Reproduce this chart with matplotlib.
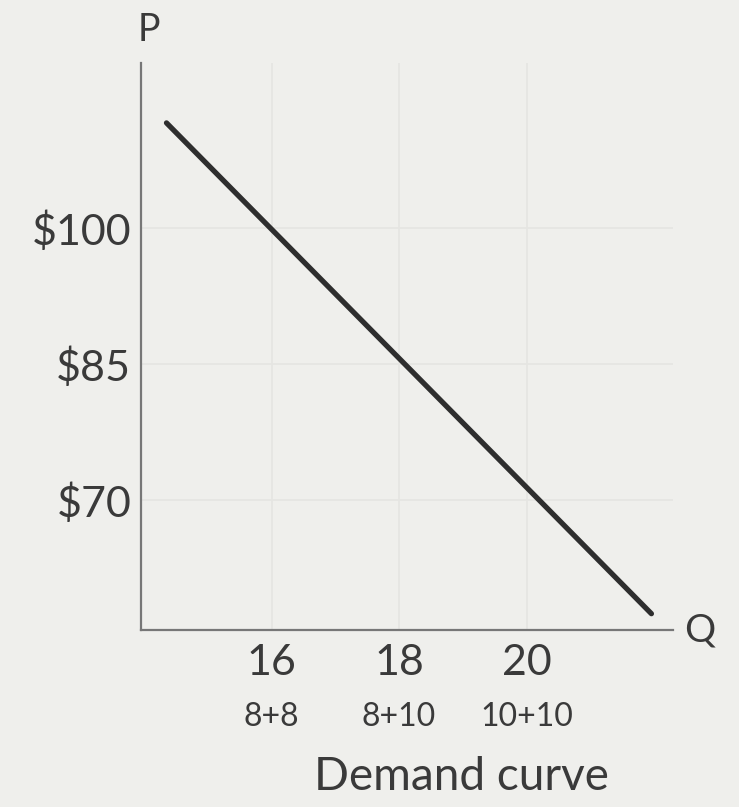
import numpy as np
import matplotlib.pyplot as plt

# demand curve end points
demand_q = [14.35, 21.96]
demand_p = [111.6, 57.5]

q_ticks = [16, 18, 20]
q_labels = ["16", "18", "20"]
q_sublabels = ["8+8", "8+10", "10+10"]
p_ticks = [70, 85, 100]
p_labels = ["$70", "$85", "$100"]

plt.rcParams['font.family'] = ['Lato', 'DejaVu Sans']
ink = '#3a3a3a'
bg = '#efefec'

fig = plt.figure(figsize=(7.39, 8.07), dpi=100, facecolor=bg)
ax = fig.add_axes([0.1908, 0.2193, 0.72, 0.7026], facecolor=bg)

ax.plot(demand_q, demand_p, color='#2e2e2e', lw=3.8, solid_capstyle='round')

ax.set_xlim(13.95, 22.3)
ax.set_ylim(55.7, 118.2)

# faint grid from the paper
for q in q_ticks:
    ax.axvline(q, color='#e5e5e2', lw=1.2, zorder=0)
for p in p_ticks:
    ax.axhline(p, color='#e5e5e2', lw=1.2, zorder=0)

for s in ['top', 'right']:
    ax.spines[s].set_visible(False)
for s in ['left', 'bottom']:
    ax.spines[s].set_color('#777777')
    ax.spines[s].set_linewidth(1.6)

ax.set_xticks(q_ticks, q_labels)
ax.set_yticks(p_ticks, p_labels)
ax.tick_params(axis='both', length=0, colors=ink, labelsize=31)
ax.tick_params(axis='x', pad=10)
ax.tick_params(axis='y', pad=7)

for q, s in zip(q_ticks, q_sublabels):
    ax.text(q, -0.153, s, transform=ax.get_xaxis_transform(), ha='center', va='center',
            fontsize=23, color=ink)

ax.text(0.015, 1.058, "P", transform=ax.transAxes, ha='center', va='center', fontsize=27, color=ink)
ax.text(1.05, 0.0, "Q", transform=ax.transAxes, ha='center', va='center', fontsize=28, color=ink)
ax.text(0.603, -0.26, "Demand curve", transform=ax.transAxes, ha='center', va='center',
        fontsize=33, color=ink)

fig.savefig('out.png', dpi=100, facecolor=bg)
